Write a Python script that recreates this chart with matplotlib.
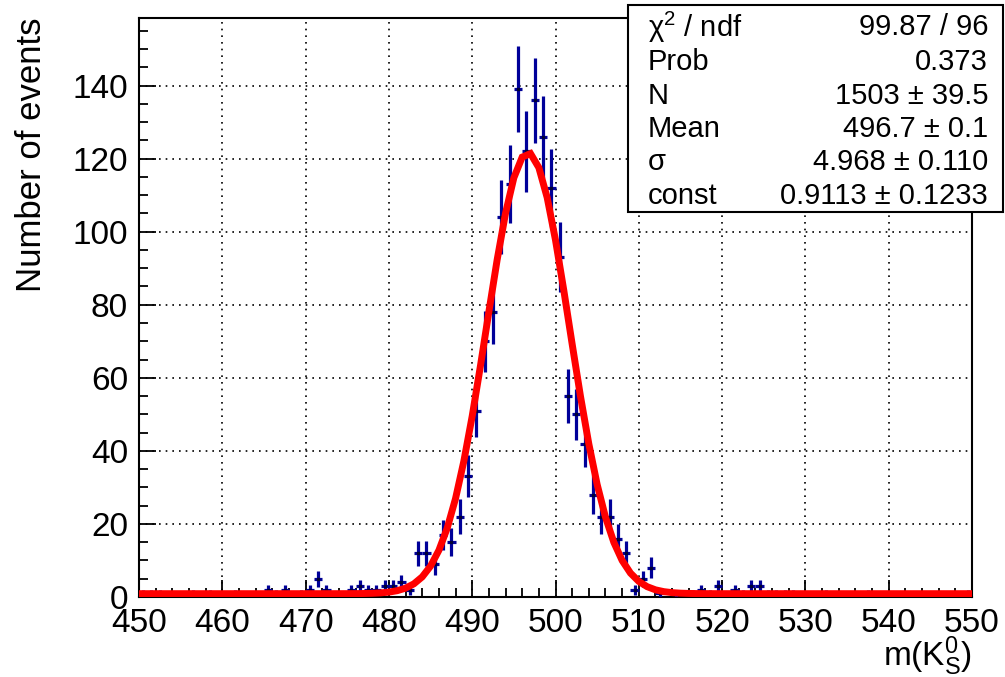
import numpy as np
import matplotlib
matplotlib.use('Agg')
import matplotlib.pyplot as plt
from matplotlib.ticker import MultipleLocator
from matplotlib.patches import Rectangle

plt.rcParams['font.family'] = ['Liberation Sans', 'DejaVu Sans']
plt.rcParams['mathtext.fontset'] = 'custom'
plt.rcParams['mathtext.rm'] = 'Liberation Sans'
plt.rcParams['mathtext.it'] = 'Liberation Sans'

# histogram: 100 bins of width 1 between 450 and 550
bin_lo = 450
bin_hi = 550
counts = [1, 1, 1, 0, 0, 0, 1, 0, 1, 0,
          0, 1, 0, 0, 0, 2, 1, 2, 0, 1,
          2, 5, 2, 0, 0, 2, 3, 2, 2, 3,
          3, 4, 2, 12, 12, 9, 17, 15, 22, 33,
          51, 70, 78, 104, 113, 139, 122, 136, 126, 112,
          93, 55, 50, 42, 28, 22, 22, 16, 12, 2,
          5, 8, 1, 0, 1, 0, 1, 2, 1, 3,
          0, 2, 1, 3, 3, 1, 1, 1, 1, 0,
          0, 0, 1, 0, 0, 0, 0, 1, 0, 0,
          0, 0, 0, 0, 0, 0, 0, 0, 0, 1]

# fit parameters from the stat box (gaus + const)
fit_N = 1503
fit_mean = 496.7
fit_sigma = 4.968
fit_const = 0.9113

stat_names = ['\u03c7$^{2}$ / ndf', 'Prob', 'N', 'Mean', '\u03c3', 'const']
stat_values = ['99.87 / 96', '0.373', '1503 \u00b1 39.5', '496.7 \u00b1 0.1',
               '4.968 \u00b1 0.110', '0.9113 \u00b1 0.1233']

counts = np.array(counts, dtype=float)
edges = np.arange(bin_lo, bin_hi + 1)
centers = edges[:-1] + 0.5
keep = counts > 0

fig = plt.figure(figsize=(10.05, 6.77), dpi=100)
ax = fig.add_axes([139 / 1005, 1 - 597 / 677, (972 - 139) / 1005, (597 - 18) / 677])

ax.errorbar(centers[keep], counts[keep], yerr=np.sqrt(counts[keep]), xerr=0.5,
            fmt='none', ecolor='#000099', elinewidth=2.3, capsize=0, zorder=3)
ax.plot(centers[keep], counts[keep], 's', color='#000033', ms=1.6, zorder=4)

# fit curve, sampled like ROOT (npx=100)
xf = np.linspace(bin_lo, bin_hi, 101)
yf = fit_N / (fit_sigma * np.sqrt(2 * np.pi)) * np.exp(-0.5 * ((xf - fit_mean) / fit_sigma) ** 2) + fit_const
ax.plot(xf, yf, color='#ff0000', lw=5, zorder=5, solid_joinstyle='miter')

ax.set_xlim(bin_lo, bin_hi)
ax.set_ylim(0, 158.5)
ax.xaxis.set_major_locator(MultipleLocator(10))
ax.xaxis.set_minor_locator(MultipleLocator(2))
ax.yaxis.set_major_locator(MultipleLocator(20))
ax.yaxis.set_minor_locator(MultipleLocator(5))
ax.tick_params(which='both', direction='in', top=False, right=False, width=1.3, labelsize=24)
ax.tick_params(which='major', length=12)
ax.tick_params(which='minor', length=6.5)
ax.tick_params(axis='x', pad=8)
ax.tick_params(axis='y', pad=8)
ax.grid(True, which='major', color='black', linestyle=(0, (1, 3)), lw=1.2)
for s in ax.spines.values():
    s.set_linewidth(1.5)

fig.text(972 / 1005, 1 - 666 / 677, r'm(K$_{\mathrm{S}}^{0}$)', ha='right', va='baseline', fontsize=24)
fig.text(32 / 1005, 1 - 17 / 677, 'Number of events', rotation=90, ha='center', va='top', fontsize=25)

# stat box
bx0, bx1, by0, by1 = 628, 1003, 5, 212
fig.patches.append(Rectangle((bx0 / 1005, 1 - by1 / 677), (bx1 - bx0) / 1005, (by1 - by0) / 677,
                             transform=fig.transFigure, facecolor='white', edgecolor='black',
                             lw=1.5, zorder=10))
row_y = [27, 62, 96, 129, 162, 196]
for nm, val, ry in zip(stat_names, stat_values, row_y):
    yy = 1 - ry / 677
    fig.text(648 / 1005, yy, nm, ha='left', va='center', fontsize=21, zorder=11)
    fig.text(988 / 1005, yy, val, ha='right', va='center', fontsize=21, zorder=11)

fig.savefig('out.png', dpi=100)
